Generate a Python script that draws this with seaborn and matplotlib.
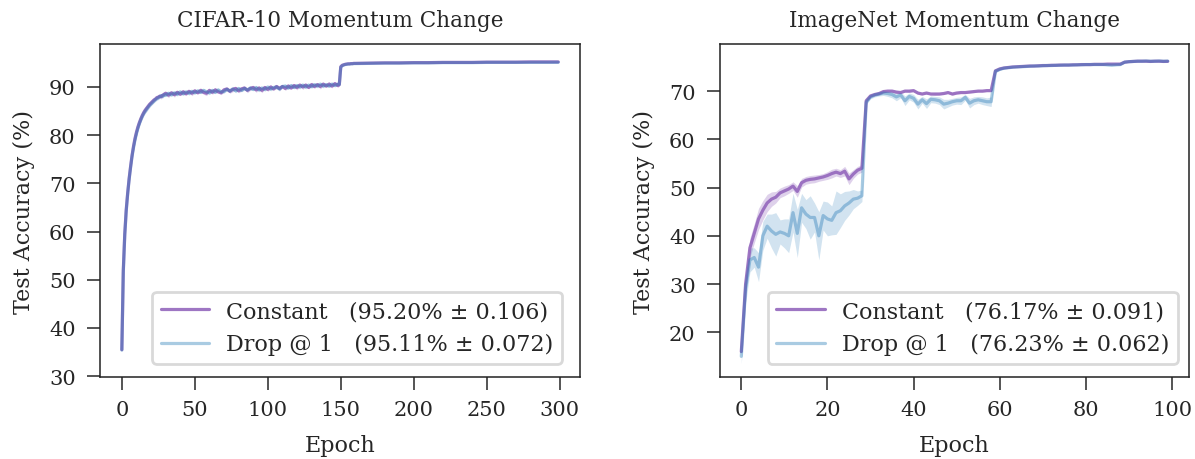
import matplotlib
matplotlib.use("Agg")
import matplotlib.pyplot as plt
import numpy as np
import pandas as pd
import seaborn as sns

# ---------------- CIFAR-10 (300 epochs) ----------------
cifar_epochs = (list(range(0, 30)) + list(range(30, 150, 2)) + [149]
                + list(range(150, 160)) + list(range(160, 300, 10)) + [299])

cifar_const = [
    35.5, 52.0, 59.5, 64.5, 68.0, 71.0, 73.5, 75.8, 77.7, 79.3,
    80.6, 81.7, 82.6, 83.4, 84.1, 84.7, 85.2, 85.6, 86.0, 86.4,
    86.7, 87.0, 87.3, 87.5, 87.8, 87.9, 88.1, 88.0, 88.3, 88.5,
    88.7, 88.3, 88.8, 88.4, 88.9, 88.5, 89.0, 88.6, 89.1, 88.7,
    89.2, 88.8, 89.3, 88.9, 88.7, 89.3, 88.9, 89.4, 89.0, 88.8,
    89.4, 89.6, 89.1, 89.5, 89.7, 89.2, 89.6, 89.8, 89.3, 89.7,
    89.9, 89.4, 89.8, 89.3, 89.9, 89.5, 90.0, 89.6, 90.1, 89.7,
    90.1, 89.7, 90.2, 89.8, 90.3, 89.9, 90.4, 90.0, 90.4, 89.9,
    90.5, 90.1, 90.5, 90.1, 90.6, 90.2, 90.6, 90.2, 90.7, 90.3,
    90.5,
    94.2, 94.5, 94.6, 94.7, 94.75, 94.8, 94.8, 94.85, 94.85, 94.9,
    94.9, 94.95, 95.0, 95.0, 95.05, 95.05, 95.1, 95.1, 95.1, 95.15,
    95.15, 95.15, 95.2, 95.2, 95.2,
]
cifar_drop = [
    35.4, 51.5, 59.2, 64.2, 67.8, 70.8, 73.3, 75.6, 77.4, 79.0,
    80.3, 81.4, 82.4, 83.2, 83.9, 84.5, 85.0, 85.4, 85.8, 86.2,
    86.5, 86.8, 87.1, 87.4, 87.6, 87.8, 88.0, 88.2, 88.1, 88.4,
    88.3, 88.7, 88.4, 88.8, 88.5, 89.0, 88.6, 89.0, 88.7, 89.1,
    88.8, 89.2, 88.9, 89.3, 89.0, 88.8, 89.3, 88.9, 89.4, 89.0,
    89.1, 89.5, 89.2, 89.6, 89.2, 89.7, 89.3, 89.7, 89.4, 89.8,
    89.5, 89.9, 89.4, 89.8, 89.5, 90.0, 89.6, 89.9, 90.0, 89.6,
    90.1, 90.2, 89.8, 90.3, 89.9, 90.3, 90.0, 90.4, 90.0, 90.4,
    90.1, 90.5, 90.2, 90.6, 90.2, 90.5, 90.2, 90.6, 90.3, 90.6,
    90.5,
    94.1, 94.4, 94.55, 94.65, 94.7, 94.75, 94.75, 94.8, 94.8, 94.85,
    94.85, 94.9, 94.95, 94.95, 95.0, 95.0, 95.05, 95.05, 95.05, 95.1,
    95.1, 95.1, 95.1, 95.1, 95.11,
]
cifar_const_sd = [
    0.4, 1.2, 1.2, 1.1, 1.0, 1.0, 0.9, 0.9, 0.8, 0.8,
    0.8, 0.7, 0.7, 0.7, 0.6, 0.6, 0.6, 0.6, 0.5, 0.5,
    0.5, 0.5, 0.5, 0.4, 0.4, 0.4, 0.4, 0.5, 0.4, 0.4,
    0.4, 0.5, 0.3, 0.5, 0.4, 0.3, 0.5, 0.4, 0.3, 0.5,
    0.4, 0.3, 0.5, 0.4, 0.5, 0.3, 0.4, 0.5, 0.3, 0.4,
    0.5, 0.3, 0.4, 0.5, 0.3, 0.4, 0.5, 0.3, 0.5, 0.4,
    0.3, 0.5, 0.4, 0.5, 0.3, 0.4, 0.5, 0.3, 0.4, 0.5,
    0.3, 0.4, 0.5, 0.3, 0.4, 0.5, 0.3, 0.5, 0.4, 0.3,
    0.5, 0.4, 0.3, 0.5, 0.4, 0.3, 0.5, 0.4, 0.3, 0.4,
    0.3,
    0.2, 0.15, 0.15, 0.1, 0.1, 0.1, 0.1, 0.1, 0.1, 0.1,
    0.1, 0.1, 0.1, 0.1, 0.1, 0.1, 0.1, 0.1, 0.1, 0.1,
    0.1, 0.1, 0.1, 0.1, 0.1,
]
cifar_drop_sd = [
    0.3, 1.0, 1.0, 1.0, 0.9, 0.9, 0.8, 0.8, 0.7, 0.7,
    0.7, 0.6, 0.6, 0.6, 0.6, 0.5, 0.5, 0.5, 0.5, 0.5,
    0.4, 0.4, 0.4, 0.4, 0.4, 0.4, 0.4, 0.4, 0.4, 0.4,
    0.3, 0.4, 0.4, 0.3, 0.4, 0.3, 0.4, 0.3, 0.4, 0.4,
    0.3, 0.4, 0.3, 0.4, 0.3, 0.4, 0.4, 0.3, 0.4, 0.3,
    0.4, 0.3, 0.4, 0.3, 0.4, 0.4, 0.3, 0.4, 0.3, 0.4,
    0.3, 0.4, 0.4, 0.3, 0.4, 0.3, 0.4, 0.3, 0.4, 0.4,
    0.3, 0.4, 0.3, 0.4, 0.3, 0.4, 0.4, 0.3, 0.4, 0.3,
    0.4, 0.3, 0.4, 0.3, 0.4, 0.3, 0.3, 0.4, 0.3, 0.3,
    0.3,
    0.2, 0.15, 0.1, 0.1, 0.1, 0.1, 0.1, 0.1, 0.1, 0.1,
    0.1, 0.1, 0.1, 0.1, 0.1, 0.1, 0.1, 0.1, 0.1, 0.1,
    0.1, 0.1, 0.1, 0.1, 0.1,
]

# ---------------- ImageNet (100 epochs) ----------------
imnet_epochs = list(range(0, 100))

imnet_const = [
    16.0, 30.0, 37.5, 40.5, 43.5, 45.3, 46.8, 47.6, 48.0, 48.9,
    49.3, 49.7, 50.3, 49.2, 51.0, 51.5, 51.7, 51.8, 52.0, 52.2,
    52.5, 52.9, 53.2, 52.9, 53.4, 51.8, 52.8, 53.6, 54.0,
    68.0, 69.0, 69.3, 69.5, 69.9, 70.0, 70.0, 69.8, 69.7, 70.0,
    70.0, 70.1, 69.6, 69.4, 69.6, 69.4, 69.4, 69.4, 69.5, 69.7,
    69.4, 69.6, 69.7, 69.7, 69.8, 69.9, 70.0, 70.0, 70.1, 70.1,
    74.2, 74.6, 74.8, 74.9, 75.0, 75.05, 75.1, 75.15, 75.2, 75.2,
    75.25, 75.3, 75.3, 75.35, 75.35, 75.4, 75.4, 75.4, 75.45, 75.45,
    75.5, 75.5, 75.5, 75.55, 75.55, 75.55, 75.6, 75.6, 75.6, 75.6,
    76.0, 76.1, 76.15, 76.2, 76.2, 76.2, 76.15, 76.2, 76.2, 76.15,
    76.17,
]
imnet_drop = [
    15.0, 29.0, 35.0, 35.5, 33.5, 40.0, 42.0, 41.0, 40.3, 40.8,
    40.5, 40.0, 44.8, 40.5, 45.8, 44.5, 43.8, 43.8, 40.0, 44.2,
    43.5, 43.2, 44.8, 45.2, 46.2, 46.8, 47.6, 47.8, 48.3,
    67.7, 68.8, 69.2, 69.4, 69.6, 69.5, 69.3, 68.8, 69.2, 68.0,
    68.9, 68.5, 67.3, 68.2, 67.4, 68.3, 68.2, 68.0, 67.3, 67.5,
    67.8, 68.0, 68.0, 68.7, 67.5, 68.0, 68.2, 68.0, 67.8, 67.8,
    74.1, 74.5, 74.75, 74.85, 74.95, 75.0, 75.05, 75.1, 75.15, 75.2,
    75.2, 75.25, 75.3, 75.3, 75.35, 75.35, 75.4, 75.4, 75.4, 75.45,
    75.45, 75.5, 75.5, 75.5, 75.5, 75.5, 75.45, 75.4, 75.45, 75.5,
    76.0, 76.1, 76.15, 76.2, 76.2, 76.25, 76.2, 76.2, 76.25, 76.2,
    76.23,
]
imnet_const_sd = [
    0.8, 1.5, 2.0, 2.0, 2.2, 2.0, 1.8, 1.5, 1.2, 1.0,
    1.0, 0.9, 0.9, 1.2, 0.9, 0.8, 0.8, 0.8, 0.7, 0.7,
    0.8, 0.9, 0.8, 0.8, 1.0, 1.2, 0.9, 0.8, 0.8,
    0.4, 0.3, 0.3, 0.3, 0.3, 0.2, 0.2, 0.3, 0.2, 0.2,
    0.3, 0.2, 0.3, 0.2, 0.2, 0.2, 0.3, 0.2, 0.2, 0.2,
    0.3, 0.2, 0.2, 0.2, 0.2, 0.2, 0.2, 0.2, 0.2, 0.2,
    0.2, 0.15, 0.15, 0.15, 0.1, 0.1, 0.1, 0.1, 0.1, 0.1,
    0.1, 0.1, 0.1, 0.1, 0.1, 0.1, 0.1, 0.1, 0.1, 0.1,
    0.1, 0.1, 0.1, 0.1, 0.1, 0.1, 0.1, 0.1, 0.1, 0.1,
    0.15, 0.1, 0.1, 0.1, 0.1, 0.1, 0.1, 0.1, 0.1, 0.1,
    0.1,
]
imnet_drop_sd = [
    1.5, 3.0, 2.5, 2.0, 3.0, 3.0, 2.5, 3.5, 4.5, 2.5,
    3.0, 3.5, 4.0, 5.0, 3.0, 3.0, 4.5, 3.0, 5.0, 3.0,
    3.5, 3.0, 4.5, 3.5, 3.0, 2.5, 2.0, 1.5, 1.2,
    0.5, 0.4, 0.4, 0.4, 0.5, 0.6, 0.7, 0.8, 0.6, 1.0,
    0.7, 0.8, 1.0, 0.7, 1.0, 0.7, 0.7, 0.8, 1.0, 0.8,
    0.7, 0.7, 0.8, 0.6, 1.0, 0.8, 0.7, 0.8, 0.8, 1.0,
    0.3, 0.2, 0.15, 0.15, 0.1, 0.1, 0.1, 0.1, 0.1, 0.1,
    0.1, 0.1, 0.1, 0.1, 0.1, 0.1, 0.1, 0.1, 0.1, 0.1,
    0.1, 0.1, 0.1, 0.1, 0.15, 0.15, 0.2, 0.2, 0.15, 0.15,
    0.15, 0.1, 0.1, 0.1, 0.1, 0.1, 0.1, 0.1, 0.1, 0.1,
    0.1,
]

cifar_labels = ["Constant   (95.20% \u00b1 0.106)", "Drop @ 1   (95.11% \u00b1 0.072)"]
imnet_labels = ["Constant   (76.17% \u00b1 0.091)", "Drop @ 1   (76.23% \u00b1 0.062)"]

PURPLE = "#9467bd"
BLUE = "#1f77b4"

sns.set_theme(style="ticks")
plt.rcParams["font.family"] = "DejaVu Serif"
plt.rcParams["xtick.major.size"] = 9.5
plt.rcParams["ytick.major.size"] = 9.5
plt.rcParams["xtick.major.pad"] = 7
plt.rcParams["ytick.major.pad"] = 8
plt.rcParams["axes.linewidth"] = 1.1
plt.rcParams["xtick.major.width"] = 1.1
plt.rcParams["ytick.major.width"] = 1.1

fig = plt.figure(figsize=(11.95, 4.6), dpi=100)
ax1 = fig.add_axes([0.0837, 0.178, 0.4017, 0.724])
ax2 = fig.add_axes([0.6025, 0.178, 0.3925, 0.724])


def draw(ax, epochs, const, const_sd, drop, drop_sd, labels, anchor):
    df = pd.DataFrame({
        "Epoch": epochs * 2,
        "acc": const + drop,
        "sd": const_sd + drop_sd,
        "run": [labels[0]] * len(epochs) + [labels[1]] * len(epochs),
    })
    styles = [(labels[0], PURPLE, 0.9, 0.3), (labels[1], BLUE, 0.38, 0.2)]
    for lab, col, la, fa in styles:
        sub = df[df["run"] == lab]
        ax.fill_between(sub["Epoch"], sub["acc"] - sub["sd"], sub["acc"] + sub["sd"],
                        color=col, alpha=fa, linewidth=0)
    for lab, col, la, fa in styles:
        sub = df[df["run"] == lab]
        sns.lineplot(data=sub, x="Epoch", y="acc", ax=ax, color=col, alpha=la,
                     linewidth=2.3, label=lab, errorbar=None)
    ax.set_xlabel("Epoch", fontsize=16, labelpad=11)
    ax.set_ylabel("Test Accuracy (%)", fontsize=16, labelpad=10)
    ax.tick_params(labelsize=15)
    leg = ax.legend(loc="lower right", bbox_to_anchor=anchor, borderaxespad=0,
                    fontsize=16, frameon=True, fancybox=True,
                    handlelength=2.2, borderpad=0.38, handletextpad=0.75,
                    labelspacing=0.5)
    leg.get_frame().set_edgecolor("#d0d0d0")
    leg.get_frame().set_linewidth(2.0)
    for sp in ax.spines.values():
        sp.set_visible(True)
        sp.set_color("#222222")


draw(ax1, cifar_epochs, cifar_const, cifar_const_sd, cifar_drop, cifar_drop_sd,
     cifar_labels, (0.962, 0.04))
ax1.set_title("CIFAR-10 Momentum Change", fontsize=15.5, pad=13)
ax1.set_xlim(-14.95, 313.95)
ax1.set_ylim(29.8, 98.9)
ax1.set_xticks([0, 50, 100, 150, 200, 250, 300])
ax1.set_yticks([30, 40, 50, 60, 70, 80, 90])

draw(ax2, imnet_epochs, imnet_const, imnet_const_sd, imnet_drop, imnet_drop_sd,
     imnet_labels, (0.976, 0.04))
ax2.set_title("ImageNet Momentum Change", fontsize=15.5, pad=13)
ax2.set_xlim(-4.95, 103.95)
ax2.set_ylim(10.7, 79.75)
ax2.set_xticks([0, 20, 40, 60, 80, 100])
ax2.set_yticks([20, 30, 40, 50, 60, 70])

fig.savefig("out.png", dpi=100)
